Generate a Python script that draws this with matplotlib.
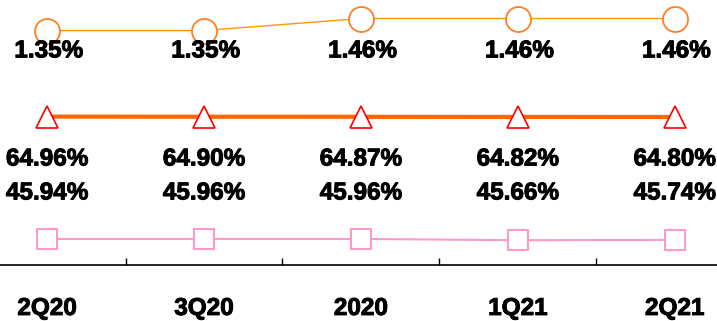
import matplotlib
matplotlib.use("Agg")
from matplotlib import pyplot as plt
from matplotlib import patheffects

quarters = ["2Q20", "3Q20", "2020", "1Q21", "2Q21"]
top_values = [1.35, 1.35, 1.46, 1.46, 1.46]
mid_values = [64.96, 64.90, 64.87, 64.82, 64.80]
low_values = [45.94, 45.96, 45.96, 45.66, 45.74]

plt.rcParams['font.family'] = ['Liberation Sans', 'DejaVu Sans']

fig = plt.figure(figsize=(7.17, 3.21), dpi=100)
ax = fig.add_axes([0, 56 / 321, 1, 265 / 321])
ax_mid = ax.twinx()
ax_top = ax.twinx()

x = list(range(len(quarters)))

# bottom series (pink squares)
ax.plot(x, low_values, color="#ff99cc", linewidth=1.5, marker="s", markersize=14.5,
        markerfacecolor="white", markeredgecolor="#ff99cc", markeredgewidth=1.5)
ax.set_ylim(39.9, 101.5)

# middle series (red triangles on orange line)
ax_mid.plot(x, mid_values, color="#ff6600", linewidth=3, marker="^", markersize=16,
            markerfacecolor="white", markeredgecolor="#ff0000", markeredgewidth=1.2)
ax_mid.set_ylim(0, 116)

# top series (orange circles)
ax_top.plot(x, top_values, color="#ff9900", linewidth=1.0, marker="o", markersize=18,
            markerfacecolor="white", markeredgecolor="#ff7f27", markeredgewidth=1.3)
ax_top.set_ylim(-0.80, 1.63)

# labels sit in fixed rows
bold = [patheffects.withStroke(linewidth=0.7, foreground="black")]
label_style = dict(ha="center", va="center", fontsize=17.5, fontweight="bold",
                   color="black", path_effects=bold)
for i in x:
    ax_top.annotate(f"{top_values[i]:.2f}%", (i + 0.01, 0.808), xycoords=("data", "axes fraction"), **label_style)
    ax_mid.annotate(f"{mid_values[i]:.2f}%", (i, 0.40), xycoords=("data", "axes fraction"), **label_style)
    ax.annotate(f"{low_values[i]:.2f}%", (i, 0.272), xycoords=("data", "axes fraction"), **label_style)

for a in (ax, ax_mid, ax_top):
    a.set_xlim(-0.3, 4.27)
    for side in ("top", "left", "right"):
        a.spines[side].set_visible(False)
    a.set_yticks([])
for a in (ax_mid, ax_top):
    a.spines["bottom"].set_visible(False)

ax.spines["bottom"].set_linewidth(1.2)
ax.set_xticks(x)
ax.set_xticklabels(quarters, fontsize=17.5, fontweight="bold")
for t in ax.get_xticklabels():
    t.set_path_effects(bold)
ax.tick_params(axis="x", which="major", length=0, pad=23)
ax.set_xticks([0.5, 1.5, 2.5, 3.5], minor=True)
ax.tick_params(axis="x", which="minor", direction="in", length=5, width=1)

fig.savefig("out.png", dpi=100)
